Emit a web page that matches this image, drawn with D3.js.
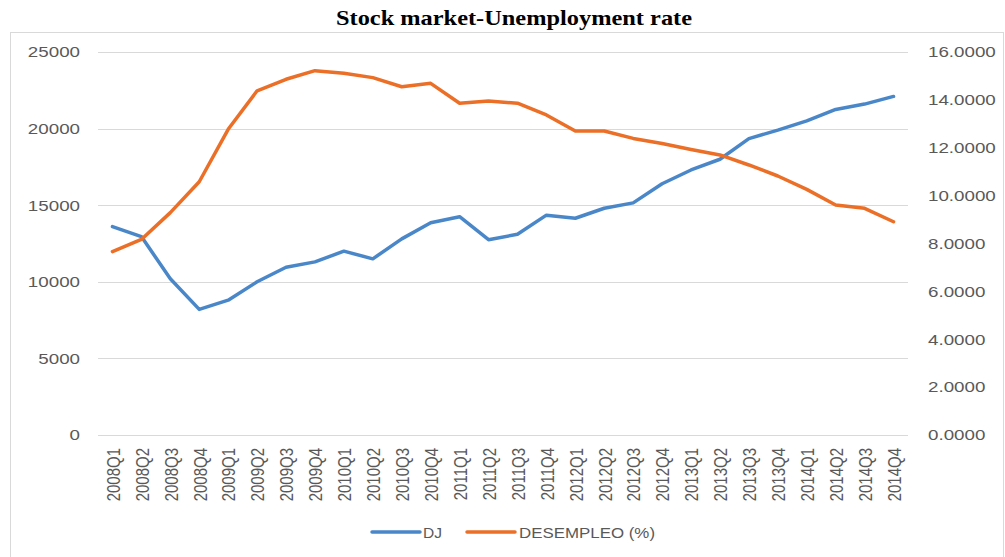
<!DOCTYPE html>
<html>
<head>
<meta charset="utf-8">
<script src="https://cdn.jsdelivr.net/npm/d3@7"></script>
<style>
  html, body { margin: 0; padding: 0; background: #fff; }
  svg { display: block; }
  text { font-family: "Liberation Sans", Arial, sans-serif; }
</style>
</head>
<body>
<svg id="chart" width="1005" height="557"></svg>
<script>
const categories = ["2008Q1","2008Q2","2008Q3","2008Q4","2009Q1","2009Q2","2009Q3","2009Q4",
  "2010Q1","2010Q2","2010Q3","2010Q4","2011Q1","2011Q2","2011Q3","2011Q4",
  "2012Q1","2012Q2","2012Q3","2012Q4","2013Q1","2013Q2","2013Q3","2013Q4",
  "2014Q1","2014Q2","2014Q3","2014Q4"];
const dj = [13600, 12950, 10200, 8200, 8800, 10000, 10950, 11300,
  12000, 11500, 12800, 13850, 14250, 12750, 13100, 14350,
  14150, 14800, 15150, 16400, 17300, 18000, 19350, 19900,
  20500, 21250, 21600, 22100];
const desempleo = [7.66, 8.17, 9.29, 10.58, 12.77, 14.38, 14.86, 15.22,
  15.11, 14.93, 14.55, 14.69, 13.86, 13.95, 13.86, 13.37,
  12.70, 12.70, 12.39, 12.18, 11.93, 11.70, 11.28, 10.82,
  10.26, 9.61, 9.47, 8.91];
const leftTicks = [0, 5000, 10000, 15000, 20000, 25000];
const rightTicks = [0, 2, 4, 6, 8, 10, 12, 14, 16];
const title = "Stock market-Unemployment rate";
const seriesNames = ["DJ", "DESEMPLEO (%)"];
const colors = ["#4a87c9", "#eb6f27"];

const svg = d3.select("#chart");
const plot = { left: 98, right: 908, top: 52, bottom: 435 };
const STRETCH = 1.25;

// outer chart border
svg.append("rect")
  .attr("x", 10.5).attr("y", 32.5).attr("width", 993).attr("height", 530)
  .attr("fill", "none").attr("stroke", "#d9d9d9").attr("stroke-width", 1);

// title
svg.append("text")
  .attr("x", 514).attr("y", 25)
  .attr("text-anchor", "middle")
  .style("font-family", "'Liberation Serif', 'Times New Roman', serif")
  .style("font-weight", "bold")
  .style("font-size", "22px")
  .attr("fill", "#000")
  .attr("textLength", 356).attr("lengthAdjust", "spacingAndGlyphs")
  .text(title);

const x = d3.scalePoint().domain(categories).range([plot.left, plot.right]).padding(0.5);
const yL = d3.scaleLinear().domain([0, 25000]).range([plot.bottom, plot.top]);
const yR = d3.scaleLinear().domain([0, 16]).range([plot.bottom, plot.top]);

// gridlines
svg.append("g").selectAll("line").data(leftTicks).join("line")
  .attr("x1", plot.left).attr("x2", plot.right)
  .attr("y1", d => Math.round(yL(d)) + 0.5).attr("y2", d => Math.round(yL(d)) + 0.5)
  .attr("stroke", "#d9d9d9").attr("stroke-width", 1);

function stretchTexts(sel) {
  sel.selectAll("text").each(function() {
    const len = this.getComputedTextLength();
    d3.select(this).attr("textLength", len * STRETCH).attr("lengthAdjust", "spacingAndGlyphs");
  });
}

// left axis
const gL = svg.append("g").attr("transform", `translate(${plot.left},0)`)
  .call(d3.axisLeft(yL).tickValues(leftTicks).tickSize(0).tickPadding(18).tickFormat(d3.format("d")));
gL.select(".domain").remove();
gL.selectAll("text").style("font-size", "15px").attr("fill", "#595959");
stretchTexts(gL);

// right axis
const gR = svg.append("g").attr("transform", `translate(${plot.right},0)`)
  .call(d3.axisRight(yR).tickValues(rightTicks).tickSize(0).tickPadding(20).tickFormat(d3.format(".4f")));
gR.select(".domain").remove();
gR.selectAll("text").style("font-size", "15px").attr("fill", "#595959");
stretchTexts(gR);

// bottom axis
const gX = svg.append("g").attr("transform", `translate(0,${plot.bottom})`)
  .call(d3.axisBottom(x).tickSize(0));
gX.select(".domain").remove();
gX.selectAll("text")
  .style("font-size", "15px").attr("fill", "#595959")
  .attr("transform", `rotate(-90) scale(1,${STRETCH})`)
  .attr("text-anchor", "end")
  .attr("x", -13).attr("y", 0).attr("dy", "0.36em");

// lines
const lineL = d3.line().x((d, i) => x(categories[i])).y(d => yL(d));
const lineR = d3.line().x((d, i) => x(categories[i])).y(d => yR(d));
svg.append("path").datum(dj).attr("d", lineL)
  .attr("fill", "none").attr("stroke", colors[0]).attr("stroke-width", 3.5)
  .attr("stroke-linejoin", "round").attr("stroke-linecap", "round");
svg.append("path").datum(desempleo).attr("d", lineR)
  .attr("fill", "none").attr("stroke", colors[1]).attr("stroke-width", 3.5)
  .attr("stroke-linejoin", "round").attr("stroke-linecap", "round");

// legend
const legendItems = [
  { name: seriesNames[0], color: colors[0], x1: 372, x2: 420, tx: 423, tl: 19 },
  { name: seriesNames[1], color: colors[1], x1: 467, x2: 515, tx: 519, tl: 136 }
];
const lg = svg.append("g");
legendItems.forEach(it => {
  lg.append("line").attr("x1", it.x1).attr("x2", it.x2).attr("y1", 532).attr("y2", 532)
    .attr("stroke", it.color).attr("stroke-width", 3.5).attr("stroke-linecap", "round");
  lg.append("text").attr("x", it.tx).attr("y", 537.5)
    .style("font-size", "15px").attr("fill", "#595959")
    .attr("textLength", it.tl).attr("lengthAdjust", "spacingAndGlyphs")
    .text(it.name);
});
</script>
</body>
</html>
